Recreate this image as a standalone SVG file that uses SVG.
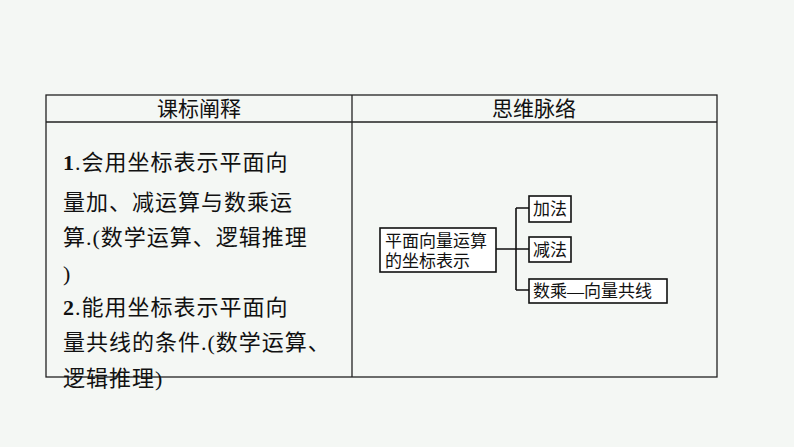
<svg xmlns="http://www.w3.org/2000/svg" width="794" height="447" viewBox="0 0 794 447">
<style>
text{font-family:"Liberation Serif","Noto Sans CJK SC",serif;fill:#111}
.h{font-size:21px;text-anchor:middle}
.b{font-size:22px;letter-spacing:1px}
.n{font-size:17px}
.bx{fill:#fff;stroke:#111;stroke-width:1.6}
.ln{fill:none;stroke:#111;stroke-width:1.6}
</style>
<rect width="794" height="447" fill="#f4f7f4"/>
<g id="table">
<rect x="46" y="95" width="671" height="282" fill="none" stroke="#222" stroke-width="1.3"/>
<line x1="46" y1="122" x2="717" y2="122" stroke="#222" stroke-width="1.3"/>
<line x1="352" y1="95" x2="352" y2="377" stroke="#222" stroke-width="1.3"/>
<text class="h" x="199" y="116">课标阐释</text>
<text class="h" x="534" y="116">思维脉络</text>
</g>
<g id="left-text">
<text class="b" x="63" y="170"><tspan font-weight="bold">1</tspan>.会用坐标表示平面向</text>
<text class="b" x="63" y="210">量加、减运算与数乘运</text>
<text class="b" x="63" y="245">算.(数学运算、逻辑推理</text>
<text class="b" x="63" y="281">)</text>
<text class="b" x="63" y="315"><tspan font-weight="bold">2</tspan>.能用坐标表示平面向</text>
<text class="b" x="63" y="350">量共线的条件.(数学运算、</text>
<text class="b" x="63" y="386">逻辑推理)</text>
</g>
<g id="connectors">
<path class="ln" d="M496 249H516M516 208V290M516 208H529M516 249H529M516 290H529"/>
</g>
<g id="main"><rect class="bx" x="380" y="228" width="116" height="44"/>
<text class="n" x="385" y="247">平面向量运算</text><text class="n" x="385" y="267">的坐标表示</text></g>
<g id="add"><rect class="bx" x="529" y="196" width="42" height="26"/><text class="n" x="533" y="215">加法</text></g>
<g id="sub"><rect class="bx" x="529" y="237" width="42" height="25"/><text class="n" x="533" y="256">减法</text></g>
<g id="mul"><rect class="bx" x="529" y="279" width="138" height="24"/><text class="n" x="533" y="297">数乘—向量共线</text></g>
</svg>
